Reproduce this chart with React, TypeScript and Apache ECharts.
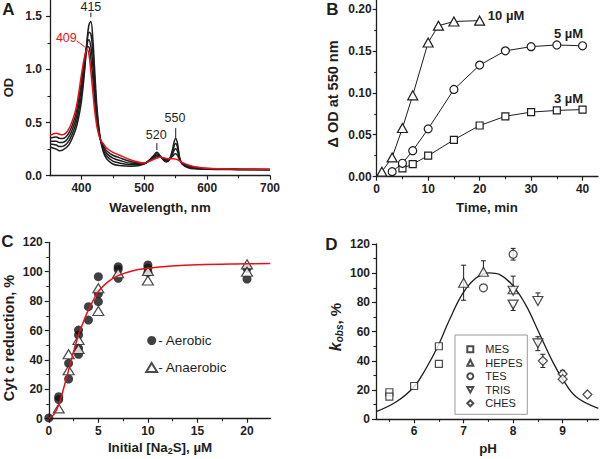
import React, { useEffect, useRef } from 'react';
import * as echarts from 'echarts';

// ---------- Panel A: spectra ----------
const wavelengths = [350, 360, 365, 370, 380, 390, 395, 400, 405, 409, 412, 415, 418, 421, 425, 430, 435, 440, 450, 460, 480, 500, 510, 515, 520, 525, 530, 535, 540, 545, 548, 550, 553, 556, 560, 570, 580, 600, 650, 700];
const odOxidized = [0.38, 0.40, 0.39, 0.385, 0.44, 0.60, 0.75, 0.95, 1.12, 1.19, 1.14, 0.98, 0.80, 0.62, 0.45, 0.34, 0.30, 0.26, 0.22, 0.195, 0.145, 0.12, 0.14, 0.155, 0.165, 0.175, 0.168, 0.163, 0.16, 0.16, 0.158, 0.156, 0.15, 0.14, 0.125, 0.10, 0.085, 0.07, 0.063, 0.06];
const odReduced = [0.27, 0.25, 0.235, 0.24, 0.29, 0.42, 0.53, 0.70, 0.98, 1.28, 1.42, 1.45, 1.30, 1.00, 0.62, 0.35, 0.22, 0.16, 0.11, 0.095, 0.088, 0.11, 0.16, 0.19, 0.22, 0.19, 0.15, 0.13, 0.15, 0.25, 0.33, 0.35, 0.30, 0.18, 0.11, 0.075, 0.065, 0.06, 0.057, 0.055];
const odStep3 = [0.2975, 0.288, 0.274, 0.276, 0.328, 0.465, 0.585, 0.763, 1.015, 1.258, 1.35, 1.333, 1.175, 0.905, 0.578, 0.348, 0.24, 0.185, 0.1375, 0.12, 0.102, 0.113, 0.155, 0.181, 0.206, 0.186, 0.155, 0.138, 0.153, 0.228, 0.288, 0.302, 0.263, 0.17, 0.114, 0.081, 0.07, 0.063, 0.059, 0.056];
const odStep2 = [0.325, 0.325, 0.313, 0.313, 0.365, 0.51, 0.64, 0.825, 1.05, 1.235, 1.28, 1.215, 1.05, 0.81, 0.535, 0.345, 0.26, 0.21, 0.165, 0.145, 0.1165, 0.115, 0.15, 0.173, 0.1925, 0.1825, 0.159, 0.147, 0.155, 0.205, 0.245, 0.254, 0.225, 0.16, 0.118, 0.088, 0.075, 0.065, 0.06, 0.058];
const odStep1 = [0.3525, 0.363, 0.351, 0.349, 0.403, 0.555, 0.695, 0.888, 1.085, 1.213, 1.21, 1.098, 0.925, 0.715, 0.493, 0.343, 0.28, 0.235, 0.1925, 0.17, 0.131, 0.118, 0.145, 0.164, 0.179, 0.179, 0.164, 0.155, 0.158, 0.183, 0.203, 0.206, 0.188, 0.15, 0.121, 0.094, 0.08, 0.068, 0.062, 0.059];
const ticksAx = [400, 500, 600, 700];
const minorAx = [450, 550, 650];
const ticksAy = [0, 0.5, 1.0, 1.5];
const minorAy = [0.25, 0.75, 1.25];

// ---------- Panel B: kinetics ----------
const time10 = [1, 3, 5, 7, 10, 12, 15, 20];
const dOD10 = [0.006, 0.023, 0.058, 0.097, 0.160, 0.180, 0.185, 0.186];
const time5 = [3, 5, 7, 10, 15, 20, 25, 30, 35, 40];
const dOD5 = [0.006, 0.016, 0.031, 0.057, 0.104, 0.133, 0.150, 0.155, 0.157, 0.156];
const time3 = [5, 7, 10, 15, 20, 25, 30, 35, 40];
const dOD3 = [0.010, 0.015, 0.025, 0.044, 0.061, 0.072, 0.077, 0.079, 0.080];
const ticksBx = [0, 10, 20, 30, 40];
const minorBx = [5, 15, 25, 35];
const ticksBy = [0, 0.05, 0.10, 0.15, 0.20];
const minorBy = [0.025, 0.075, 0.125, 0.175];

// ---------- Panel C: Na2S titration ----------
const aerobic = [[0, 0.5], [1, 15], [1, 13], [2, 37.7], [2, 27], [3, 60.3], [3, 57], [3, 47.9], [3, 43.8], [4, 76.2], [4, 67.1], [5, 96.6], [5, 85], [5, 79.6], [7, 103.4], [7, 101.5], [7, 95.5], [10, 104.6], [10, 102.5], [10, 99.5], [20, 102.3], [20, 95]];
const anaerobic = [[1, 7], [2, 43.8], [2, 33], [3, 53.5], [3, 47.4], [5, 73.3], [5, 88.7], [7, 98.9], [10, 94], [10, 100.5], [20, 105], [20, 100]];
const fitC = [[0, 0], [0.5, 2.8], [1, 9.3], [1.5, 20.7], [2, 33], [2.5, 45.6], [3, 57], [3.5, 66], [4, 74], [5, 86.4], [6, 93.2], [7, 97.3], [8.4, 100.5], [10, 102.3], [12.4, 103.9], [15, 104.8], [20, 105.4], [22.35, 105.6]];
const ticksCx = [0, 5, 10, 15, 20];
const minorCx = [2.5, 7.5, 12.5, 17.5];
const ticksY120 = [0, 20, 40, 60, 80, 100, 120];
const minorY120 = [10, 30, 50, 70, 90, 110];

// ---------- Panel D: pH profile ----------
const mes = [[5.5, 18.5], [5.5, 15.5], [6.0, 22.8], [6.5, 50], [6.5, 38]];
const hepes = [[7.0, 93.5], [7.4, 101], [8.0, 89]];
const tes = [[7.4, 90], [8.0, 113]];
const tris = [[8.0, 88], [8.0, 78.5], [8.5, 81], [8.5, 52]];
const ches = [[8.6, 40], [9.0, 31], [9.0, 27.5], [9.5, 17]];
// [pH, value, minus, plus]
const errorBars = [[7.0, 93.5, 12, 12], [7.4, 101, 0, 7.5], [8.0, 113, 4, 4], [8.0, 89, 0, 9], [8.0, 78.5, 4, 0], [8.5, 81, 0, 5.5], [8.5, 52, 5, 4.5], [8.6, 40, 4.5, 4.5], [9.0, 31, 0, 2.5]];
const fitD = [[5.23, 5.2], [5.64, 12], [6.0, 22.3], [6.24, 34.8], [6.48, 50], [6.71, 67.8], [6.98, 86], [7.25, 96.7], [7.52, 100.3], [7.72, 99.2], [7.99, 91.7], [8.26, 78], [8.53, 58.7], [8.8, 39.3], [9.0, 27.5], [9.27, 15.4], [9.72, 7.5]];
const ticksDx = [6, 7, 8, 9];
const minorDx = [5.5, 6.5, 7.5, 8.5, 9.5];

const FONT = '"Liberation Sans", Arial, Helvetica, sans-serif';
const INK = '#1e1e1e';
const RED = '#e8101a';

function majorAxis(gridIndex: number, min: number, max: number, ticks: number[], fmt: (v: number) => string, margin: number, position: string) {
  return {
    type: 'value', gridIndex, min, max, position,
    axisLine: { show: true, onZero: false, lineStyle: { color: INK, width: 1.3 } },
    axisTick: { show: true, inside: false, length: 4, customValues: ticks, lineStyle: { color: INK, width: 1.2 } },
    axisLabel: { show: true, customValues: ticks, formatter: fmt, margin, color: INK, fontFamily: FONT, fontSize: 12, fontWeight: 'bold' },
    splitLine: { show: false },
  };
}
function minorAxis(gridIndex: number, min: number, max: number, ticks: number[], position: string) {
  return {
    type: 'value', gridIndex, min, max, position,
    axisLine: { show: false, onZero: false },
    axisTick: { show: true, inside: false, length: 2.5, customValues: ticks, lineStyle: { color: INK, width: 1.1 } },
    axisLabel: { show: false },
    splitLine: { show: false },
  };
}

const f0 = (v: number) => String(v);
const f1 = (v: number) => v.toFixed(1);
const f2 = (v: number) => v.toFixed(2);

const zip = (xs: number[], ys: number[]) => xs.map((x, i) => [x, ys[i]]);

const hollow = { color: '#fff', borderColor: INK, borderWidth: 1.2 };
const DOWN_TRI = 'path://M0,0L10,0L5,9Z';
const DIAMOND = 'path://M5,0L10,5L5,10L0,5Z';

function spectrum(name: string, ys: number[], color: string, z: number) {
  return {
    name, type: 'line', xAxisIndex: 0, yAxisIndex: 0, data: zip(wavelengths, ys),
    smooth: 0.35, showSymbol: false, z,
    lineStyle: { color, width: 1.5 },
  };
}
function kinetic(name: string, xs: number[], ys: number[], symbol: string, size: any) {
  return {
    name, type: 'line', xAxisIndex: 2, yAxisIndex: 2, data: zip(xs, ys),
    symbol, symbolSize: size, showSymbol: true, showAllSymbol: true,
    lineStyle: { color: INK, width: 1 }, itemStyle: hollow,
  };
}
function phScatter(name: string, data: number[][], symbol: string, size: any) {
  return {
    name, type: 'scatter', xAxisIndex: 6, yAxisIndex: 6, data, symbol, symbolSize: size,
    itemStyle: hollow, z: 4,
  };
}

const option: any = {
  animation: false,
  textStyle: { fontFamily: FONT },
  grid: [
    { left: 50, top: 0.3, width: 220, height: 175.4, containLabel: false },
    { left: 376.7, top: 0.5, width: 221.3, height: 176.2, containLabel: false },
    { left: 48.8, top: 242.3, width: 221.5, height: 176.4, containLabel: false },
    { left: 376, top: 244, width: 222.3, height: 175.3, containLabel: false },
  ],
  xAxis: [
    majorAxis(0, 350, 700, ticksAx, f0, 6, 'bottom'), minorAxis(0, 350, 700, minorAx, 'bottom'),
    majorAxis(1, 0, 43, ticksBx, f0, 6, 'bottom'), minorAxis(1, 0, 43, minorBx, 'bottom'),
    majorAxis(2, 0, 22.35, ticksCx, f0, 6, 'bottom'), minorAxis(2, 0, 22.35, minorCx, 'bottom'),
    majorAxis(3, 5.23, 9.72, ticksDx, f0, 6, 'bottom'), minorAxis(3, 5.23, 9.72, minorDx, 'bottom'),
  ],
  yAxis: [
    majorAxis(0, 0, 1.65, ticksAy, f1, 8, 'left'), minorAxis(0, 0, 1.65, minorAy, 'left'),
    majorAxis(1, 0, 0.21, ticksBy, f2, 5, 'left'), minorAxis(1, 0, 0.21, minorBy, 'left'),
    majorAxis(2, 0, 120, ticksY120, f0, 6, 'left'), minorAxis(2, 0, 120, minorY120, 'left'),
    majorAxis(3, 0, 120, ticksY120, f0, 6, 'left'), minorAxis(3, 0, 120, minorY120, 'left'),
  ],
  legend: [
    {
      data: ['Aerobic', 'Anaerobic'], orient: 'vertical', left: 145.2, top: 333.5,
      itemWidth: 11, itemHeight: 9, itemGap: 13, padding: 0, selectedMode: false,
      formatter: '- {name}',
      textStyle: { fontFamily: FONT, fontSize: 13.5, color: INK, lineHeight: 13, padding: [0, 0, 0, -4] },
    },
    {
      data: ['MES', 'HEPES', 'TES', 'TRIS', 'CHES'], orient: 'vertical', left: 455, top: 335,
      itemWidth: 6, itemHeight: 6, itemGap: 0, padding: [7.5, 4.7, 4.3, 11.3],
      borderColor: '#999', borderWidth: 1, selectedMode: false,
      textStyle: { fontFamily: FONT, fontSize: 11, color: INK, lineHeight: 13.5, padding: [0, 0, 0, 7] },
    },
  ],
  series: [
    spectrum('s1', odStep1, INK, 2),
    spectrum('s2', odStep2, INK, 2),
    spectrum('s3', odStep3, INK, 2),
    spectrum('reduced', odReduced, INK, 2),
    spectrum('oxidized', odOxidized, RED, 3),

    kinetic('3 µM', time3, dOD3, 'rect', 7),
    kinetic('5 µM', time5, dOD5, 'circle', 8),
    kinetic('10 µM', time10, dOD10, 'triangle', [10, 9]),

    { name: 'Aerobic', type: 'scatter', xAxisIndex: 4, yAxisIndex: 4, data: aerobic, symbol: 'circle', symbolSize: 9, itemStyle: { color: '#111' }, z: 2 },
    { name: 'Anaerobic', type: 'scatter', xAxisIndex: 4, yAxisIndex: 4, data: anaerobic, symbol: 'triangle', symbolSize: [11, 9], itemStyle: hollow, z: 3 },
    { name: 'fitC', type: 'line', xAxisIndex: 4, yAxisIndex: 4, data: fitC, smooth: 0.4, showSymbol: false, lineStyle: { color: RED, width: 1.5 }, z: 5 },

    { name: 'fitD', type: 'line', xAxisIndex: 6, yAxisIndex: 6, data: fitD, smooth: 0.4, showSymbol: false, lineStyle: { color: INK, width: 1.3 }, z: 1 },
    {
      name: 'err', type: 'custom', xAxisIndex: 6, yAxisIndex: 6, data: errorBars, z: 2,
      renderItem: (params: any, api: any) => {
        const x = api.value(0), y = api.value(1), dn = api.value(2), up = api.value(3);
        const top = api.coord([x, y + up]);
        const bot = api.coord([x, y - dn]);
        const st = { stroke: INK, lineWidth: 1 };
        const children: any[] = [{ type: 'line', shape: { x1: top[0], y1: top[1], x2: bot[0], y2: bot[1] }, style: st }];
        if (up > 0) children.push({ type: 'line', shape: { x1: top[0] - 2.5, y1: top[1], x2: top[0] + 2.5, y2: top[1] }, style: st });
        if (dn > 0) children.push({ type: 'line', shape: { x1: bot[0] - 2.5, y1: bot[1], x2: bot[0] + 2.5, y2: bot[1] }, style: st });
        return { type: 'group', children };
      },
    },
    phScatter('MES', mes, 'rect', 7),
    phScatter('HEPES', hepes, 'triangle', [10, 9]),
    phScatter('TES', tes, 'circle', 8),
    phScatter('TRIS', tris, DOWN_TRI, [10, 9]),
    phScatter('CHES', ches, DIAMOND, 9),
  ],
};

function text(x: number, y: number, t: string, size: number, opts: any = {}) {
  return {
    type: 'text', x, y, rotation: opts.rot || 0, silent: true, z: 10,
    style: {
      text: t, fill: opts.color || INK, fontFamily: FONT, fontSize: size,
      fontWeight: opts.weight || 'normal', fontStyle: opts.style || 'normal',
      align: opts.align || 'center', verticalAlign: 'middle', rich: opts.rich,
    },
  };
}
function seg(a: number[], b: number[], color: string) {
  return { type: 'line', silent: true, z: 10, shape: { x1: a[0], y1: a[1], x2: b[0], y2: b[1] }, style: { stroke: color, lineWidth: 1 } };
}

export default function App() {
  const ref = useRef<HTMLDivElement>(null);
  useEffect(() => {
    const chart = echarts.init(ref.current!, null, { renderer: 'svg' });
    chart.setOption(option);
    const px = (g: number, x: number, y: number) =>
      chart.convertToPixel({ xAxisIndex: 2 * g, yAxisIndex: 2 * g } as any, [x, y]) as number[];
    const at = (g: number, x: number, y: number, t: string, size: number, opts: any = {}) => {
      const p = px(g, x, y);
      return text(p[0], p[1], t, size, opts);
    };
    const V = Math.PI / 2;
    const elements: any[] = [
      // panel letters
      text(8.3, 9, 'A', 17, { weight: 'bold' }),
      text(332.5, 9, 'B', 17, { weight: 'bold' }),
      text(7.5, 241.5, 'C', 17, { weight: 'bold' }),
      text(331.5, 244, 'D', 17, { weight: 'bold' }),
      // axis titles
      text(160, 207, 'Wavelength, nm', 13.3, { weight: 'bold' }),
      text(8.3, 87.5, 'OD', 13, { weight: 'bold', rot: V }),
      text(487, 207, 'Time, min', 13.3, { weight: 'bold' }),
      text(333, 94, 'Δ OD at 550 nm', 14.5, { weight: 'bold', rot: V }),
      text(160, 447, 'Initial [Na{sub|2}S], µM', 13.3, {
        weight: 'bold',
        rich: { sub: { fontSize: 9, fontWeight: 'bold', fontFamily: FONT, fill: INK, padding: [8, 0, 0, 0] } },
      }),
      text(9, 338, 'Cyt c reduction, %', 14.5, { weight: 'bold', rot: V }),
      text(488, 448, 'pH', 13.3, { weight: 'bold' }),
      text(335, 327, '{k|k}{s|obs}{n|, %}', 15, {
        weight: 'bold', rot: V,
        rich: {
          k: { fontSize: 16, fontStyle: 'italic', fontWeight: 'bold', fontFamily: FONT, fill: INK },
          s: { fontSize: 10, fontStyle: 'italic', fontWeight: 'bold', fontFamily: FONT, fill: INK, padding: [9, 0, 0, 0] },
          n: { fontSize: 15, fontWeight: 'bold', fontFamily: FONT, fill: INK },
        },
      }),
      // panel A annotations
      at(0, 415, 1.59, '415', 12.5),
      seg(px(0, 415, 1.535), px(0, 415, 1.49), INK),
      at(0, 376, 1.30, '409', 12.5, { color: RED }),
      seg(px(0, 392.5, 1.27), px(0, 405.4, 1.21), RED),
      at(0, 519, 0.38, '520', 12.5),
      seg(px(0, 520, 0.307), px(0, 520, 0.24), INK),
      at(0, 548.7, 0.54, '550', 12.5),
      seg(px(0, 550, 0.447), px(0, 550, 0.354), INK),
      // panel B labels
      at(1, 21.6, 0.1925, '10 µM', 13, { weight: 'bold', align: 'left' }),
      at(1, 40.1, 0.171, '5 µM', 13, { weight: 'bold', align: 'right' }),
      at(1, 40.1, 0.0937, '3 µM', 13, { weight: 'bold', align: 'right' }),
    ];
    chart.setOption({ graphic: { elements } });
    return () => chart.dispose();
  }, []);
  return <div ref={ref} style={{ position: 'absolute', left: 0, top: 0, width: 600, height: 459 }} />;
}
